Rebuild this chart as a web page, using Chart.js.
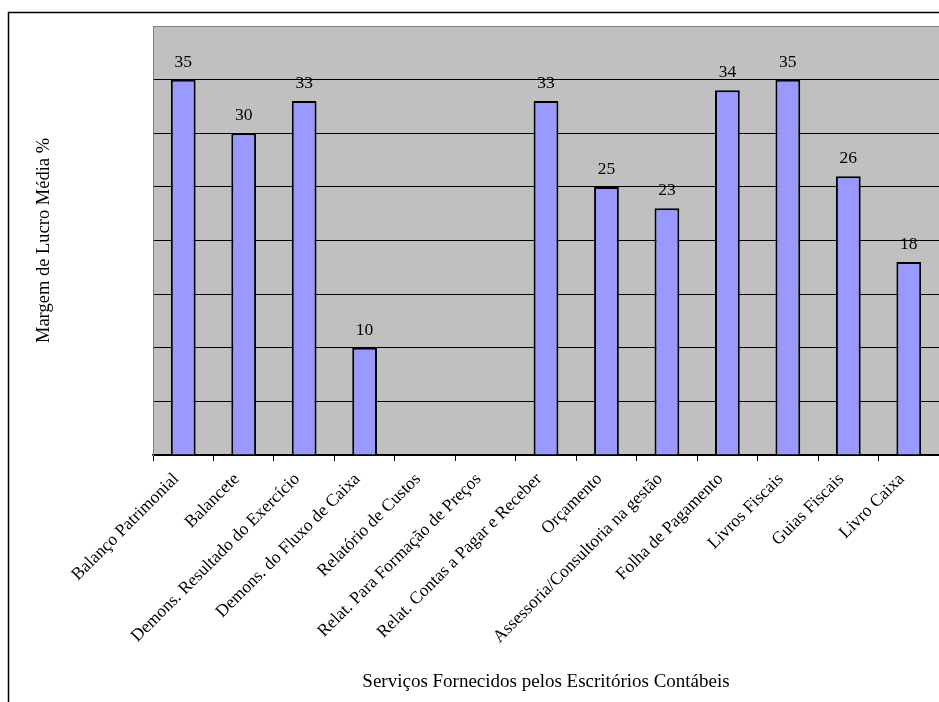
<!DOCTYPE html>
<html lang="pt">
<head>
<meta charset="UTF-8" />
<title>Margem de Lucro Média %</title>
<script src="https://cdn.jsdelivr.net/npm/chart.js"></script>
<style>
    html, body { margin: 0; padding: 0; background: #fff; overflow: hidden; }
    #wrap { width: 939px; height: 702px; }
</style>
</head>
<body>
<div id="wrap"><canvas id="chart" width="939" height="702"></canvas></div>
<script>
// categorias e valores
const categories = [
    "Balanço Patrimonial",
    "Balancete",
    "Demons. Resultado do Exercício",
    "Demons. do Fluxo de Caixa",
    "Relatório de Custos",
    "Relat. Para Formação de Preços",
    "Relat. Contas a Pagar e Receber",
    "Orçamento",
    "Assessoria/Consultoria na gestão",
    "Folha de Pagamento",
    "Livros Fiscais",
    "Guias Fiscais",
    "Livro Caixa"
];
const margem = [35, 30, 33, 10, null, null, 33, 25, 23, 34, 35, 26, 18];
const yMin = 0;
const yMax = 40;
const yStep = 5;

const serif = "'Liberation Serif', 'Times New Roman', serif";

// fundo cinza da área de plotagem + moldura externa
const backdrop = {
    id: 'backdrop',
    beforeDraw(chart) {
        const { ctx, chartArea: a } = chart;
        ctx.save();
        ctx.fillStyle = '#fff';
        ctx.fillRect(0, 0, chart.width, chart.height);
        ctx.strokeStyle = '#000';
        ctx.lineWidth = 1.5;
        ctx.beginPath();
        ctx.moveTo(8.5, chart.height);
        ctx.lineTo(8.5, 12.5);
        ctx.lineTo(chart.width, 12.5);
        ctx.stroke();
        ctx.fillStyle = '#C0C0C0';
        ctx.fillRect(a.left, a.top, a.right - a.left, a.bottom - a.top);
        ctx.strokeStyle = '#808080';
        ctx.lineWidth = 1;
        ctx.strokeRect(a.left + 0.5, a.top + 0.5, a.right - a.left, a.bottom - a.top);
        ctx.restore();
    }
};

// rótulos de valor acima das barras
const valueLabels = {
    id: 'valueLabels',
    afterDatasetsDraw(chart) {
        const { ctx } = chart;
        const meta = chart.getDatasetMeta(0);
        ctx.save();
        ctx.font = '17.5px ' + serif;
        ctx.fillStyle = '#000';
        ctx.textAlign = 'center';
        ctx.textBaseline = 'alphabetic';
        meta.data.forEach((bar, i) => {
            const v = margem[i];
            if (v === null) return;
            ctx.fillText(String(v), bar.x, bar.y - 13);
        });
        ctx.restore();
    }
};

new Chart(document.getElementById('chart'), {
    type: 'bar',
    data: {
        labels: categories,
        datasets: [{
            data: margem,
            backgroundColor: '#9999FF',
            borderColor: '#000',
            borderWidth: 2,
            barPercentage: 0.41,
            categoryPercentage: 1
        }]
    },
    options: {
        responsive: false,
        animation: false,
        devicePixelRatio: 1,
        layout: { padding: { top: 26, left: 0, right: 0, bottom: 0 } },
        plugins: {
            legend: { display: false },
            tooltip: { enabled: false }
        },
        scales: {
            x: {
                afterFit(scale) { scale.height = 247; },
                grid: {
                    offset: true,
                    drawOnChartArea: false,
                    drawTicks: true,
                    tickLength: 6,
                    color: '#000'
                },
                border: { display: true, color: '#000', width: 1.5 },
                ticks: {
                    color: '#000',
                    font: { family: serif, size: 17.5 },
                    minRotation: 45,
                    maxRotation: 45,
                    autoSkip: false,
                    padding: 8,
                    labelOffset: -7
                },
                title: {
                    display: true,
                    text: 'Serviços Fornecidos pelos Escritórios Contábeis',
                    color: '#000',
                    font: { family: serif, size: 19 },
                    padding: { top: 0, bottom: 9 }
                }
            },
            y: {
                min: yMin,
                max: yMax,
                afterFit(scale) { scale.width = 153; },
                grid: {
                    drawTicks: false,
                    color: ctx => ctx.tick && ctx.tick.value === yMax ? '#808080' : '#000',
                    lineWidth: 1
                },
                border: { display: true, color: '#808080' },
                ticks: { display: false, stepSize: yStep },
                title: {
                    display: true,
                    text: 'Margem de Lucro Média %',
                    color: '#000',
                    font: { family: serif, size: 18.5 },
                    padding: { top: 33, bottom: 0 }
                }
            }
        }
    },
    plugins: [backdrop, valueLabels]
});
</script>
</body>
</html>
